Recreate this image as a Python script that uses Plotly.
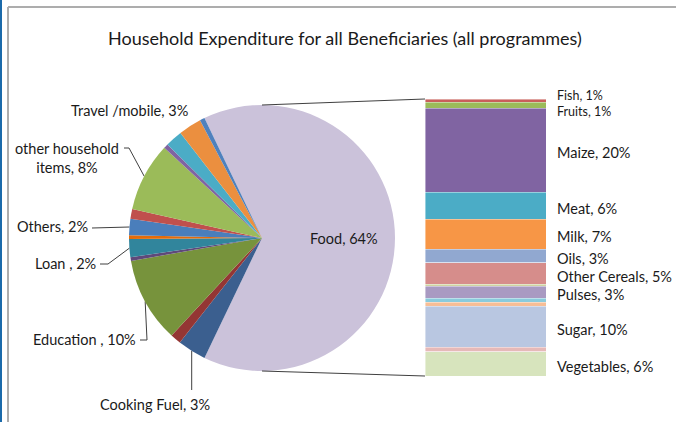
import math
import plotly.graph_objects as go

W, H = 676, 422

title = "Household Expenditure for all Beneficiaries (all programmes)"

# ---- pie slices, clockwise after the Food slice (values in %) ----
pie_names = ["Cooking Fuel", "Unlabelled A", "Education", "Unlabelled B", "Loan",
             "Unlabelled C", "Others", "Unlabelled D", "other household items",
             "Unlabelled E", "Unlabelled F", "Travel /mobile", "Unlabelled G"]
pie_values = [3.5, 1.3, 10.4, 0.45, 2.2, 0.45, 2.0, 1.2, 8.4, 0.55, 2.1, 2.8, 0.6]
pie_text = ["Cooking Fuel, 3%", "", "Education , 10%", "", "Loan , 2%", "",
            "Others, 2%", "", "other household<br>items, 8%", "", "", "Travel /mobile, 3%", ""]
pie_colors = ["#3B5F8F", "#943634", "#77933C", "#5F497A", "#31859C", "#E46C0A",
              "#4A7EBB", "#C0504D", "#9BBB59", "#8064A2", "#4BACC6", "#EB8F3F", "#4F81BD"]

food_name = "Food"
food_text = "Food, 64%"
food_color = "#CBC2DA"

# ---- bar of pie: breakdown of Food (values in %) ----
bar_names = ["Fish", "Fruits", "Maize", "Meat", "Milk", "Oils", "Other Cereals",
             "Unlabelled H", "Pulses", "Unlabelled I", "Unlabelled J", "Sugar",
             "Unlabelled K", "Vegetables"]
bar_values = [0.8, 1.3, 19.6, 6.4, 6.9, 3.2, 5.0, 0.5, 2.8, 0.9, 0.9, 9.6, 1.1, 5.6]
bar_text = ["Fish, 1%", "Fruits, 1%", "Maize, 20%", "Meat, 6%", "Milk, 7%", "Oils, 3%",
            "Other Cereals, 5%", "", "Pulses, 3%", "", "", "Sugar, 10%", "", "Vegetables, 6%"]
bar_colors = ["#C95F5B", "#9BBB59", "#8064A2", "#4BACC6", "#F79646", "#91A8D0",
              "#D68D8B", "#CFD3A0", "#A99AC2", "#8ACBDC", "#F7BE96", "#B9C7E1",
              "#E6B9B8", "#D7E4BD"]

FONT = "Lato, 'Open Sans', sans-serif"
TXT = "#1a1a1a"
LINE = "#404040"

# ---- geometry (pixels) ----
CX, CY, R = 262, 238, 133
BAR_X0, BAR_X1, BAR_Y0, BAR_Y1 = 425, 546, 99, 376

food_value = sum(bar_values)
total = food_value + sum(pie_values)
food_deg = food_value / total * 360.0
rotation = 90 - food_deg / 2.0

fig = go.Figure()

fig.add_trace(go.Pie(
    labels=[food_name] + pie_names,
    values=[food_value] + pie_values,
    marker=dict(colors=[food_color] + pie_colors, line=dict(width=0)),
    sort=False, direction="clockwise", rotation=rotation,
    textinfo="none", showlegend=False,
    domain=dict(x=[(CX - R) / W, (CX + R) / W],
                y=[(H - CY - R) / H, (H - CY + R) / H]),
))

# stacked bar for the Food breakdown (first item on top)
for name, v, c in zip(bar_names, bar_values, bar_colors):
    fig.add_trace(go.Bar(
        x=[0], y=[v], name=name, width=1, showlegend=False,
        marker=dict(color=c, line=dict(color="rgba(255,255,255,0.6)", width=0.7)),
        xaxis="x2", yaxis="y2",
    ))

annotations = []
shapes = []

# slice mid angles
angles = []
cur = rotation + food_deg
for v in pie_values:
    d = v / total * 360.0
    angles.append(cur + d / 2.0)
    cur += d


def edge(a, f=1.0):
    r = math.radians(a)
    return CX + f * R * math.sin(r), CY - f * R * math.cos(r)


# label placement (pixels): x, y, xanchor, leader start, optional elbow
label_pos = {
    "Cooking Fuel": (155, 404, "center", "vertical", None),
    "Education": (138, 339, "right", (140, 340), (147, 340)),
    "Loan": (98, 263, "right", (100, 264), (108, 264)),
    "Others": (90, 226, "right", (92, 228), None),
    "other household items": (67, 158, "center", (124, 148), (129, 148)),
    "Travel /mobile": (190, 110, "right", None, None),
}

for name, txt, a in zip(pie_names, pie_text, angles):
    if not txt:
        continue
    x, y, xa, start, elbow = label_pos[name]
    annotations.append(dict(x=x, y=y, xref="x", yref="y", text=txt, showarrow=False,
                            xanchor=xa, yanchor="middle", align="center",
                            font=dict(family=FONT, size=14.5, color=TXT)))
    if start is None:
        continue
    ex, ey = edge(a)
    if start == "vertical":
        pts = [(ex, 390), (ex, ey)]
    else:
        pts = [start] + ([elbow] if elbow else []) + [(ex, ey)]
    fig.add_trace(go.Scatter(x=[p[0] for p in pts], y=[p[1] for p in pts], mode="lines",
                             line=dict(color=LINE, width=1), hoverinfo="skip",
                             showlegend=False, xaxis="x", yaxis="y"))

# Food label inside the slice
fx, fy = edge(90, 0.62)
annotations.append(dict(x=fx, y=fy, xref="x", yref="y", text=food_text, showarrow=False,
                        xanchor="center", yanchor="middle",
                        font=dict(family=FONT, size=14.5, color=TXT)))

# bar labels (the two thin top segments get smaller, separated labels)
yshift = {"Fish": 5, "Fruits": -6}
lsize = {"Fish": 12.5, "Fruits": 12.5}
cum = 0.0
for name, v, txt in zip(bar_names, bar_values, bar_text):
    mid = cum + v / 2.0
    cum += v
    if not txt:
        continue
    annotations.append(dict(x=0.5, y=mid, xref="x2", yref="y2", text=txt, showarrow=False,
                            xanchor="left", yanchor="middle", xshift=10,
                            yshift=yshift.get(name, -2.5), borderpad=0,
                            font=dict(family=FONT, size=lsize.get(name, 14.5), color=TXT)))

# title
annotations.append(dict(x=345, y=38, xref="x", yref="y", text=title, showarrow=False,
                        xanchor="center", yanchor="middle",
                        font=dict(family=FONT, size=18, color=TXT)))

# connector lines pie -> bar
shapes.append(dict(type="line", xref="x", yref="y", x0=CX, y0=CY - R, x1=BAR_X0, y1=BAR_Y0,
                   line=dict(color=LINE, width=1.2)))
shapes.append(dict(type="line", xref="x", yref="y", x0=CX, y0=CY + R, x1=BAR_X0, y1=BAR_Y1,
                   line=dict(color=LINE, width=1.2)))

# chart frame (top and left) and window edge
shapes.append(dict(type="line", xref="paper", yref="paper", x0=8 / W, x1=1, y0=1 - 7 / H, y1=1 - 7 / H,
                   line=dict(color="#ADADAD", width=2)))
shapes.append(dict(type="line", xref="paper", yref="paper", x0=8 / W, x1=8 / W, y0=0, y1=1 - 7 / H,
                   line=dict(color="#ADADAD", width=2)))
shapes.append(dict(type="rect", xref="paper", yref="paper", x0=0, x1=2 / W, y0=0, y1=1,
                   fillcolor="#1B6AAA", line=dict(width=0)))

hidden = dict(visible=False, showgrid=False, zeroline=False, fixedrange=True)
fig.update_layout(
    width=W, height=H, margin=dict(l=0, r=0, t=0, b=0),
    paper_bgcolor="white", plot_bgcolor="rgba(0,0,0,0)",
    barmode="stack", showlegend=False,
    xaxis=dict(domain=[0, 1], range=[0, W], **hidden),
    yaxis=dict(domain=[0, 1], range=[H, 0], **hidden),
    xaxis2=dict(domain=[BAR_X0 / W, BAR_X1 / W], range=[-0.5, 0.5], anchor="y2", **hidden),
    yaxis2=dict(domain=[1 - BAR_Y1 / H, 1 - BAR_Y0 / H], range=[food_value, 0], anchor="x2", **hidden),
    annotations=annotations, shapes=shapes,
)

fig.write_html("out.html", config={"displayModeBar": False},
               post_script="document.body.style.margin='0';document.body.style.overflow='hidden';")
